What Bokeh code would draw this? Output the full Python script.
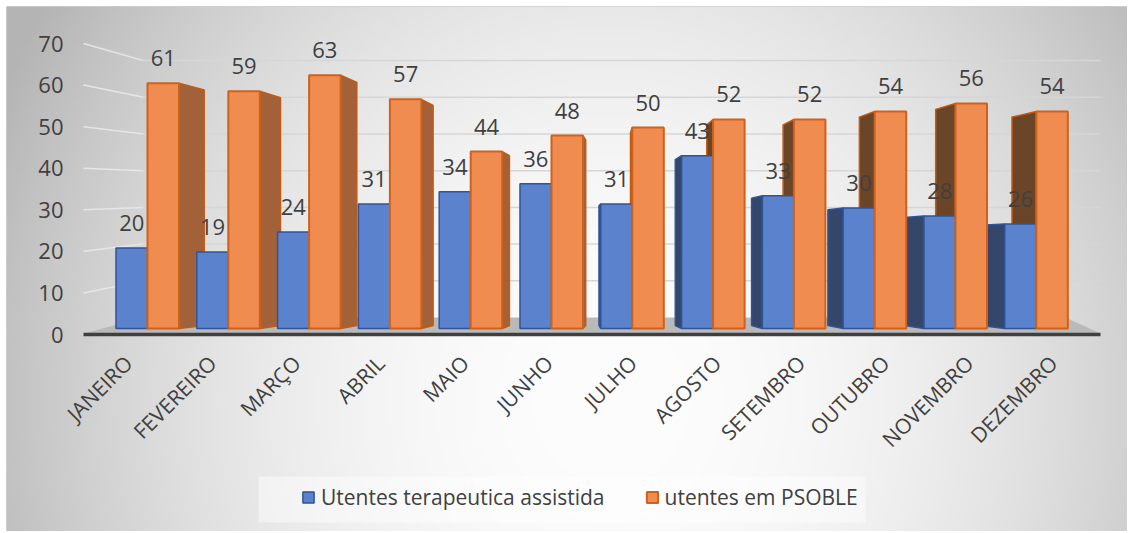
import numpy as np
from bokeh.plotting import figure
from bokeh.models import Range1d, ColumnDataSource, Legend, LegendItem
from bokeh.embed import file_html
from bokeh.resources import INLINE
from bokeh.core.properties import value

# ---------------- data ----------------
months = ["JANEIRO", "FEVEREIRO", "MARÇO", "ABRIL", "MAIO", "JUNHO",
          "JULHO", "AGOSTO", "SETEMBRO", "OUTUBRO", "NOVEMBRO", "DEZEMBRO"]
terapeutica = [20, 19, 24, 31, 34, 36, 31, 43, 33, 30, 28, 26]
psoble = [61, 59, 63, 57, 44, 48, 50, 52, 52, 54, 56, 54]
y_ticks = [0, 10, 20, 30, 40, 50, 60, 70]
series_names = ["Utentes terapeutica assistida", "utentes em PSOBLE"]

# ---------------- layout geometry (page pixels) ----------------
L, T, R, B = 6, 6, 1127, 531      # chart area on the page
X0, XS = 147.0, 80.8              # first month boundary, px per month
Y0, YS = 328.0, 4.02              # bar base, px per unit


def dx(px):
    return (px - X0) / XS


def dy(py):
    return (Y0 - py) / YS


FONT = value("Open Sans")
TXT = "#404040"

p = figure(width=R, height=B, x_range=Range1d(dx(L), dx(R)),
           y_range=Range1d(dy(B), dy(T)), x_axis_type=None, y_axis_type=None,
           output_backend="svg", toolbar_location=None, min_border=0)
p.min_border_left = L
p.min_border_top = T
p.min_border_right = 0
p.min_border_bottom = 0
p.outline_line_color = "#d0d0d0"
p.background_fill_color = "#e6e6e6"
p.border_fill_color = "white"

# ---------------- radial gradient background ----------------
nx, ny = 280, 130
gx = L + (np.arange(nx) + 0.5) * (R - L) / nx
gy = B - (np.arange(ny) + 0.5) * (B - T) / ny
GX, GY = np.meshgrid(gx, gy)
r2 = ((GX - 610) / 640.0) ** 2 + ((GY - 400) / 700.0) ** 2
c = np.clip(253 - 66 * r2, 180, 253).astype(np.uint8)
img = np.empty((ny, nx), dtype=np.uint32)
view = img.view(dtype=np.uint8).reshape((ny, nx, 4))
view[..., 0] = c
view[..., 1] = c
view[..., 2] = c
view[..., 3] = 255
p.image_rgba(image=[img], x=dx(L), y=dy(B), dw=dx(R) - dx(L), dh=dy(T) - dy(B))

# ---------------- legend panel ----------------
p.quad(left=dx(258), right=dx(865), top=dy(476), bottom=dy(522),
       fill_color="white", fill_alpha=0.45, line_color=None)

# ---------------- gridlines (left wall + back wall) ----------------
FY0, FYS = 334.0, 4.157   # front plane (value axis)
BY0, BYS = 317.0, 3.67    # back wall
grid_vals = y_ticks[1:]
p.segment(x0=[dx(83)] * len(grid_vals), y0=[dy(FY0 - FYS * v) for v in grid_vals],
          x1=[dx(143)] * len(grid_vals), y1=[dy(BY0 - BYS * v) for v in grid_vals],
          line_color="#e6e6e6", line_width=1.5)
p.segment(x0=[dx(143)] * len(grid_vals), y0=[dy(BY0 - BYS * v) for v in grid_vals],
          x1=[dx(1100)] * len(grid_vals), y1=[dy(BY0 - BYS * v) for v in grid_vals],
          line_color="#d6d6d6", line_width=1.5)

# ---------------- floor and axis line ----------------
p.patch(x=[dx(83), dx(1100), dx(1065), dx(143)],
        y=[dy(FY0 - 1), dy(FY0 - 1), dy(BY0), dy(BY0)],
        fill_color="#b9b9b9", line_color=None)
p.segment(x0=[dx(83)], y0=[dy(FY0)], x1=[dx(1100)], y1=[dy(FY0)],
          line_color="#3f3f3f", line_width=3.5)

# ---------------- bars ----------------
idx = np.arange(len(months), dtype=float)
BW = 0.39
b_left, b_right = idx - BW, idx
o_left, o_right = idx, idx + BW

DEPTH_PX, VP = 4.5, 5.6
BACK0, BACKS = 0.75, 0.96


def side_polys(lefts, rights, vals, col_right, col_left):
    xs, ys, cols = [], [], []
    for i, (l, r, v) in enumerate(zip(lefts, rights, vals)):
        d = DEPTH_PX * (VP - i) / XS
        edge = r if d > 0 else l
        xs.append([edge, edge, edge + d, edge + d])
        ys.append([0, v, BACK0 + BACKS * v, BACK0])
        cols.append(col_right if d > 0 else col_left)
    return dict(xs=xs, ys=ys, c=cols)


so = ColumnDataSource(side_polys(o_left, o_right, psoble, "#a3613a", "#6b4528"))
sb = ColumnDataSource(side_polys(b_left, b_right, terapeutica, "#3d5a8c", "#34476b"))
p.patches("xs", "ys", source=so, fill_color="c", line_color="#c55a11", line_width=1.5)
p.patches("xs", "ys", source=sb, fill_color="c", line_color="#2f5597", line_width=1.5)

src = ColumnDataSource(dict(bl=b_left, br=b_right, ol=o_left, or_=o_right,
                            t=terapeutica, s=psoble,
                            bx=b_left + BW / 2, ox=o_left + BW / 2,
                            tl=[str(v) for v in terapeutica],
                            sl=[str(v) for v in psoble]))
rb = p.quad(left="bl", right="br", bottom=0, top="t", source=src,
            fill_color="#5b82cd", line_color="#2f5597", line_width=1.5)
ro = p.quad(left="ol", right="or_", bottom=0, top="s", source=src,
            fill_color="#f08c50", line_color="#d0611a", line_width=2)

# ---------------- data labels ----------------
p.text(x="bx", y="t", text="tl", source=src, text_font=FONT, text_font_size="22px",
       text_color=TXT, text_align="center", text_baseline="middle", y_offset=-25)
p.text(x="ox", y="s", text="sl", source=src, text_font=FONT, text_font_size="22px",
       text_color=TXT, text_align="center", text_baseline="middle", y_offset=-25)

# ---------------- value axis labels (front plane) ----------------
p.text(x=[dx(63)] * len(y_ticks), y=[dy(FY0 - FYS * v) for v in y_ticks],
       text=[str(v) for v in y_ticks], text_font=FONT, text_font_size="22px",
       text_color=TXT, text_align="right", text_baseline="middle")

# ---------------- category labels (front plane, rotated) ----------------
FX0, FXS = 118.0, 84.1
p.text(x=[dx(FX0 + FXS * i) for i in range(len(months))], y=[dy(349)] * len(months),
       text=months, angle=np.pi / 4, text_font=FONT, text_font_size="21px",
       text_color=TXT, text_align="right", text_baseline="top")

# ---------------- legend ----------------
legend = Legend(items=[LegendItem(label=series_names[0], renderers=[rb]),
                       LegendItem(label=series_names[1], renderers=[ro])],
                orientation="horizontal", location=(295, 20),
                glyph_width=14, glyph_height=14, label_standoff=6, spacing=40,
                padding=0, margin=0, background_fill_alpha=0, border_line_alpha=0,
                label_text_font="Open Sans", label_text_font_size="21px",
                label_text_color=TXT)
p.add_layout(legend)

open("out.html", "w").write(file_html(p, INLINE))
